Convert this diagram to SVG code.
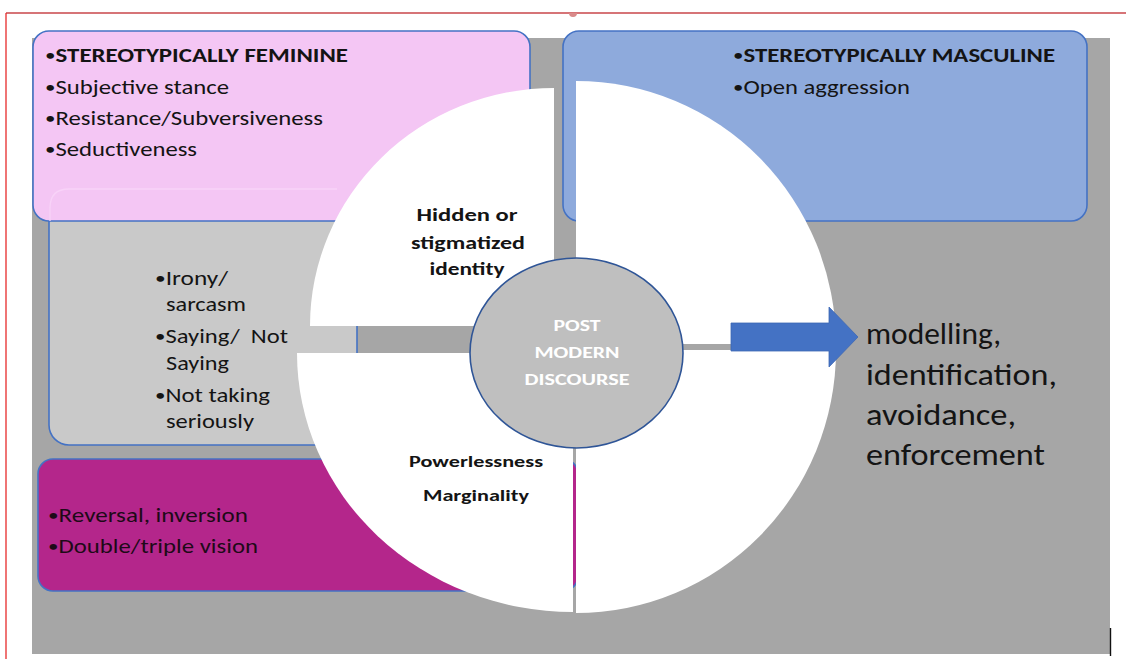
<svg xmlns="http://www.w3.org/2000/svg" width="1126" height="659" viewBox="0 0 1126 659">
  <style>
    .t { font-family: Carlito, Lato, "Liberation Sans", sans-serif; fill: #141414; }
    .s20 { font-size: 20px; }
    .b { font-weight: bold; }
    .big { font-size: 30px; }
    .ctr { text-anchor: middle; }
    .wh { fill: #ffffff; }
    .box { stroke: #4472c4; stroke-width: 1.6; }
    .quad { fill: #ffffff; }
    .bu { font-size: 17px; font-weight: normal; }
  </style>
  <rect x="0" y="0" width="1126" height="659" fill="#ffffff"/>
  <!-- frame -->
  <line x1="6" y1="13" x2="1126" y2="13" stroke="#c8464a" stroke-width="1.3"/>
  <line x1="6" y1="13" x2="6" y2="659" stroke="#e62a2a" stroke-width="1.3"/>
  <path d="M569,13 A4,4 0 0 0 577,13 Z" fill="#d98a8a"/>
  <!-- background -->
  <rect x="32" y="38" width="1078" height="616" fill="#a6a6a6"/>
  <line x1="1110.5" y1="628" x2="1110.5" y2="656" stroke="#111" stroke-width="1.4"/>

  <g id="node-irony">
    <rect class="box" x="49" y="188" width="308" height="257" rx="20" fill="#c9c9c9"/>
  </g>
  <g id="node-feminine">
    <rect class="box" x="33" y="31" width="497" height="190" rx="16" fill="#f4c6f4"/>
    <path d="M50,221 L50,208 Q50,189 69,189 L337,189" fill="none" stroke="#f8d3f8" stroke-width="1.3"/>
    <text class="t s20 b" x="45" y="62" textLength="303" lengthAdjust="spacingAndGlyphs"><tspan class="bu" dy="-1">•</tspan><tspan dy="1">STEREOTYPICALLY FEMININE</tspan></text>
    <text class="t s20" x="45" y="94" textLength="184" lengthAdjust="spacingAndGlyphs"><tspan class="bu" dy="-1">•</tspan><tspan dy="1">Subjective stance</tspan></text>
    <text class="t s20" x="45" y="125" textLength="278" lengthAdjust="spacingAndGlyphs"><tspan class="bu" dy="-1">•</tspan><tspan dy="1">Resistance/Subversiveness</tspan></text>
    <text class="t s20" x="45" y="156" textLength="152" lengthAdjust="spacingAndGlyphs"><tspan class="bu" dy="-1">•</tspan><tspan dy="1">Seductiveness</tspan></text>
  </g>
  <g id="node-masculine">
    <rect class="box" x="563" y="31" width="524" height="190" rx="16" fill="#8eaadc"/>
    <text class="t s20 b" x="733" y="62" textLength="322" lengthAdjust="spacingAndGlyphs"><tspan class="bu" dy="-1">•</tspan><tspan dy="1">STEREOTYPICALLY MASCULINE</tspan></text>
    <text class="t s20" x="733" y="94" textLength="177" lengthAdjust="spacingAndGlyphs"><tspan class="bu" dy="-1">•</tspan><tspan dy="1">Open aggression</tspan></text>
  </g>
  <g id="node-reversal">
    <rect class="box" x="38" y="459" width="540" height="132" rx="15" fill="#b4268b"/>
    <text class="t s20" x="48" y="522" textLength="200" lengthAdjust="spacingAndGlyphs" style="fill:#1e0a18"><tspan class="bu" dy="-1">•</tspan><tspan dy="1">Reversal, inversion</tspan></text>
    <text class="t s20" x="48" y="553" textLength="210" lengthAdjust="spacingAndGlyphs" style="fill:#1e0a18"><tspan class="bu" dy="-1">•</tspan><tspan dy="1">Double/triple vision</tspan></text>
  </g>

  <g id="node-quadrants">
    <path class="quad" d="M554,326 L554,88 A244,238 0 0 0 310,326 Z"/>
    <path class="quad" d="M576,344 L576,81 A260,263 0 0 1 836,344 Z"/>
    <path class="quad" d="M576,350 L836,350 A260,263 0 0 1 576,613 Z"/>
    <path class="quad" d="M573,353 L573,612 A276,259 0 0 1 297,353 Z"/>
  </g>

  <g id="node-irony-text">
    <text class="t s20" x="155" y="285" textLength="73" lengthAdjust="spacingAndGlyphs"><tspan class="bu" dy="-1">•</tspan><tspan dy="1">Irony/</tspan></text>
    <text class="t s20" x="166" y="311" textLength="80" lengthAdjust="spacingAndGlyphs">sarcasm</text>
    <text class="t s20" x="155" y="343" textLength="133" lengthAdjust="spacingAndGlyphs" xml:space="preserve"><tspan class="bu" dy="-1">•</tspan><tspan dy="1">Saying/  Not</tspan></text>
    <text class="t s20" x="166" y="370" textLength="63" lengthAdjust="spacingAndGlyphs">Saying</text>
    <text class="t s20" x="155" y="402" textLength="115" lengthAdjust="spacingAndGlyphs"><tspan class="bu" dy="-1">•</tspan><tspan dy="1">Not taking</tspan></text>
    <text class="t s20" x="166" y="428" textLength="88" lengthAdjust="spacingAndGlyphs">seriously</text>
  </g>

  <g id="node-hidden">
    <text class="t b ctr" font-size="18" x="467" y="221" textLength="101" lengthAdjust="spacingAndGlyphs">Hidden or</text>
    <text class="t b ctr" font-size="18" x="468" y="249" textLength="114" lengthAdjust="spacingAndGlyphs">stigmatized</text>
    <text class="t b ctr" font-size="18" x="467" y="275" textLength="75" lengthAdjust="spacingAndGlyphs">identity</text>
  </g>
  <g id="node-powerless">
    <text class="t b ctr" font-size="16" x="476" y="467" textLength="134" lengthAdjust="spacingAndGlyphs">Powerlessness</text>
    <text class="t b ctr" font-size="16" x="476" y="501" textLength="106" lengthAdjust="spacingAndGlyphs">Marginality</text>
  </g>

  <g id="node-center">
    <ellipse cx="576.5" cy="353" rx="106.5" ry="95" fill="#bfbfbf" stroke="#2f5597" stroke-width="1.6"/>
    <text class="t b ctr wh" font-size="16" x="577" y="331" textLength="47" lengthAdjust="spacingAndGlyphs">POST</text>
    <text class="t b ctr wh" font-size="16" x="577" y="358" textLength="85" lengthAdjust="spacingAndGlyphs">MODERN</text>
    <text class="t b ctr wh" font-size="16" x="577" y="385" textLength="105" lengthAdjust="spacingAndGlyphs">DISCOURSE</text>
  </g>

  <g id="connectors">
    <polygon points="731,323 829,323 829,307 858,337 829,367 829,351 731,351" fill="#4472c4" stroke="#3d68b4" stroke-width="0.8"/>
  </g>

  <g id="node-outcomes">
    <text class="t big" x="866" y="344" textLength="135" lengthAdjust="spacingAndGlyphs">modelling,</text>
    <text class="t big" x="866" y="385" textLength="191" lengthAdjust="spacingAndGlyphs">identification,</text>
    <text class="t big" x="866" y="425" textLength="150" lengthAdjust="spacingAndGlyphs">avoidance,</text>
    <text class="t big" x="866" y="465" textLength="179" lengthAdjust="spacingAndGlyphs">enforcement</text>
  </g>
</svg>
